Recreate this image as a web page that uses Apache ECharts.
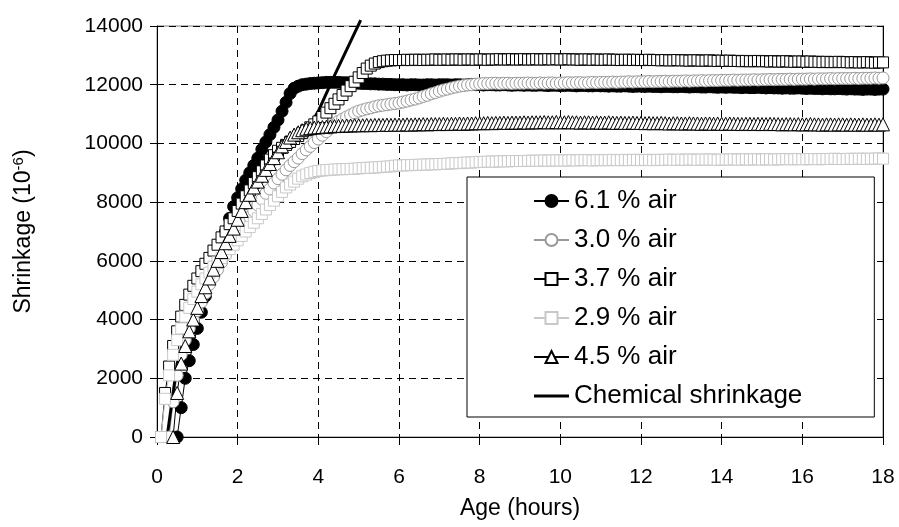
<!DOCTYPE html>
<html>
<head>
<meta charset="utf-8">
<script src="https://cdn.jsdelivr.net/npm/echarts@6/dist/echarts.min.js"></script>
<style>html,body{margin:0;padding:0;background:#fff}#c{width:899px;height:527px}</style>
</head>
<body>
<div id="c"></div>
<script>
// Age (hours) sampling grid
const ages = [
0.1,0.2,0.3,0.4,0.5,0.6,0.7,0.8,0.9,1.0,
1.1,1.2,1.3,1.4,1.5,1.6,1.7,1.8,1.9,2.0,
2.1,2.2,2.3,2.4,2.5,2.6,2.7,2.8,2.9,3.0,
3.1,3.2,3.3,3.4,3.5,3.6,3.7,3.8,3.9,4.0,
4.1,4.2,4.3,4.4,4.5,4.6,4.7,4.8,4.9,5.0,
5.1,5.2,5.3,5.4,5.5,5.6,5.7,5.8,5.9,6.0,
6.1,6.2,6.3,6.4,6.5,6.6,6.7,6.8,6.9,7.0,
7.1,7.2,7.3,7.4,7.5,7.6,7.7,7.8,7.9,8.0,
8.1,8.2,8.3,8.4,8.5,8.6,8.7,8.8,8.9,9.0,
9.1,9.2,9.3,9.4,9.5,9.6,9.7,9.8,9.9,10.0,
10.1,10.2,10.3,10.4,10.5,10.6,10.7,10.8,10.9,11.0,
11.1,11.2,11.3,11.4,11.5,11.6,11.7,11.8,11.9,12.0,
12.1,12.2,12.3,12.4,12.5,12.6,12.7,12.8,12.9,13.0,
13.1,13.2,13.3,13.4,13.5,13.6,13.7,13.8,13.9,14.0,
14.1,14.2,14.3,14.4,14.5,14.6,14.7,14.8,14.9,15.0,
15.1,15.2,15.3,15.4,15.5,15.6,15.7,15.8,15.9,16.0,
16.1,16.2,16.3,16.4,16.5,16.6,16.7,16.8,16.9,17.0,
17.1,17.2,17.3,17.4,17.5,17.6,17.7,17.8,17.9,18.0
];

const air61 = [
null,null,null,null,0,1000,2000,2600,3150,3700,
4250,4800,5300,5800,6200,6600,7000,7450,7850,8150,
8450,8750,9000,9250,9500,9800,10050,10300,10550,10800,
11100,11400,11700,11880,11950,12000,12020,12040,12050,12060,
12070,12080,12080,12080,12080,12070,12070,12060,12060,12050,
12040,12040,12030,12030,12020,12020,12010,12010,12000,12000,
12000,11990,12000,12000,11990,11990,12000,12000,11990,12000,
12000,12000,11990,12000,12000,11990,12000,12010,12000,12000,
11990,12000,12000,11990,11990,12000,11990,11980,11990,11990,
11980,11990,11980,11980,11990,11980,11970,11980,11980,11970,
11970,11980,11970,11960,11970,11970,11960,11960,11970,11960,
11960,11950,11960,11950,11950,11960,11950,11940,11950,11950,
11940,11950,11940,11940,11930,11940,11940,11930,11930,11940,
11930,11920,11930,11930,11920,11920,11930,11920,11910,11920,
11910,11920,11910,11910,11900,11910,11900,11900,11910,11900,
11890,11900,11890,11890,11880,11890,11880,11880,11890,11880,
11870,11880,11870,11870,11860,11870,11860,11860,11870,11860,
11850,11860,11850,11850,11840,11850,11850,11840,11850,11850
];

const air30 = [
null,null,0,1200,2100,2800,3300,3700,4000,4300,
4600,4900,5200,5450,5700,5950,6200,6450,6700,6900,
7100,7300,7500,7700,7900,8100,8300,8450,8650,8800,
8950,9100,9250,9380,9500,9650,9780,9900,10030,10150,
10280,10400,10520,10630,10750,10830,10900,10970,11040,11100,
11140,11180,11210,11250,11280,11300,11320,11340,11360,11380,
11410,11440,11480,11510,11550,11600,11640,11690,11730,11780,
11820,11850,11890,11920,11950,11970,11990,12000,12020,12030,
12040,12040,12050,12050,12040,12050,12050,12040,12050,12050,
12050,12060,12050,12050,12060,12050,12060,12060,12050,12060,
12060,12070,12060,12070,12070,12060,12070,12080,12070,12080,
12080,12080,12090,12080,12090,12090,12100,12090,12100,12100,
12100,12110,12100,12110,12110,12120,12110,12120,12120,12120,
12130,12120,12130,12130,12140,12130,12140,12140,12140,12150,
12150,12150,12160,12150,12160,12160,12160,12170,12160,12170,
12170,12180,12170,12180,12180,12180,12190,12180,12190,12190,
12190,12200,12190,12200,12200,12200,12210,12200,12210,12210,
12210,12210,12220,12210,12220,12220,12220,12230,12220,12230
];

const air37 = [
0,1500,2400,3100,3600,4100,4500,4850,5150,5400,
5650,5900,6100,6350,6550,6800,7000,7250,7450,7700,
7950,8200,8400,8650,8850,9050,9250,9450,9600,9750,
9850,9950,10050,10150,10250,10350,10450,10550,10650,10750,
10900,11050,11200,11350,11500,11650,11800,11950,12100,12250,
12400,12550,12650,12720,12770,12800,12820,12830,12840,12840,
12840,12850,12840,12850,12850,12840,12850,12850,12860,12850,
12850,12860,12850,12860,12860,12850,12860,12860,12850,12860,
12860,12850,12860,12860,12870,12860,12860,12870,12860,12860,
12870,12860,12860,12870,12860,12860,12870,12860,12870,12860,
12860,12870,12860,12860,12850,12860,12860,12850,12860,12850,
12850,12860,12850,12850,12840,12850,12850,12840,12850,12840,
12840,12850,12840,12840,12830,12840,12830,12830,12840,12830,
12830,12820,12830,12830,12820,12820,12830,12820,12810,12820,
12810,12820,12810,12810,12800,12810,12800,12800,12810,12800,
12800,12790,12800,12790,12790,12800,12790,12780,12790,12790,
12780,12790,12780,12780,12770,12780,12770,12770,12780,12770,
12770,12760,12770,12760,12760,12770,12760,12750,12760,12760
];

const air29 = [
0,1300,2100,2800,3300,3700,4100,4400,4700,4950,
5200,5400,5600,5800,5950,6100,6250,6400,6550,6700,
6850,7000,7150,7300,7450,7600,7750,7900,8050,8200,
8350,8500,8600,8700,8800,8880,8940,8990,9030,9060,
9080,9090,9100,9110,9120,9120,9130,9130,9140,9150,
9160,9170,9170,9180,9190,9200,9210,9220,9240,9250,
9250,9260,9260,9270,9270,9280,9280,9290,9290,9300,
9300,9310,9320,9330,9330,9340,9350,9350,9360,9370,
9370,9380,9380,9380,9390,9390,9390,9400,9400,9400,
9400,9410,9410,9410,9410,9420,9410,9420,9420,9420,
9420,9420,9430,9420,9430,9430,9430,9420,9430,9430,
9430,9430,9440,9430,9430,9440,9430,9440,9440,9430,
9440,9440,9430,9440,9440,9440,9450,9440,9440,9450,
9440,9450,9450,9440,9450,9450,9450,9450,9440,9450,
9450,9450,9460,9450,9450,9460,9450,9460,9460,9450,
9460,9460,9450,9460,9460,9470,9460,9460,9470,9460,
9460,9470,9470,9460,9470,9470,9470,9480,9470,9470,
9470,9480,9470,9480,9480,9470,9480,9480,9490,9480
];

const air45 = [
null,null,null,0,1500,2500,3100,3600,4000,4400,
4800,5100,5400,5700,6000,6300,6600,6850,7100,7400,
7700,8000,8250,8500,8700,8900,9100,9300,9500,9700,
9900,10050,10200,10300,10380,10450,10500,10520,10540,10550,
10560,10570,10580,10590,10600,10600,10610,10610,10620,10620,
10620,10630,10620,10630,10630,10630,10640,10630,10640,10640,
10640,10650,10640,10650,10650,10660,10650,10660,10660,10660,
10670,10660,10670,10670,10680,10670,10680,10680,10690,10690,
10690,10700,10690,10700,10700,10710,10700,10710,10710,10710,
10720,10710,10720,10720,10720,10730,10720,10720,10730,10720,
10720,10730,10720,10720,10710,10720,10720,10710,10720,10710,
10710,10720,10710,10700,10710,10700,10700,10710,10700,10700,
10690,10700,10690,10690,10700,10690,10680,10690,10690,10680,
10680,10690,10680,10680,10670,10680,10680,10670,10680,10670,
10670,10680,10670,10670,10660,10670,10670,10660,10670,10660,
10660,10670,10660,10660,10650,10660,10660,10650,10660,10650,
10650,10660,10650,10650,10640,10650,10650,10640,10650,10650,
10640,10650,10640,10640,10650,10640,10640,10650,10640,10650
];

// Chemical shrinkage curve (hidden in the marker cloud until ~3.7 h, then straight up)
const chemAges = [0.25, 0.5, 1.0, 1.5, 2.0, 2.5, 3.0, 3.4, 3.7, 4.0, 4.41, 5.05];
const chemVals = [0, 2500, 5000, 6500, 7700, 8800, 9550, 10050, 10400, 11100, 12340, 14200];

const seriesNames = ['6.1 % air', '3.0 % air', '3.7 % air', '2.9 % air', '4.5 % air', 'Chemical shrinkage'];
const xTicks = [0, 2, 4, 6, 8, 10, 12, 14, 16, 18];
const yTicks = [0, 2000, 4000, 6000, 8000, 10000, 12000, 14000];

function pairs(xs, ys) {
  const out = [];
  for (let i = 0; i < xs.length; i++) if (ys[i] !== null) out.push([xs[i], ys[i]]);
  return out;
}

const FONT = '"Liberation Sans", Arial, sans-serif';
const chart = echarts.init(document.getElementById('c'), null, {renderer: 'canvas'});

function markerSeries(name, vals, symbol, size, fill, stroke) {
  return {
    name: name, type: 'line', data: pairs(ages, vals),
    symbol: symbol, symbolSize: size, showAllSymbol: true,
    lineStyle: {color: stroke, width: 1},
    itemStyle: {color: fill, borderColor: stroke, borderWidth: 1},
    emphasis: {disabled: true}
  };
}

chart.setOption({
  animation: false,
  backgroundColor: '#fff',
  textStyle: {fontFamily: FONT},
  grid: {left: 157, right: 16, top: 26, bottom: 90, show: true, borderColor: '#808080', borderWidth: 1, backgroundColor: 'transparent'},
  legend: {
    orient: 'vertical', left: 467, top: 177,
    padding: [11, 72, 8, 66],
    backgroundColor: '#fff', borderColor: '#000', borderWidth: 1,
    itemWidth: 35, itemHeight: 15, itemGap: 13,
    textStyle: {fontSize: 26, color: '#000', fontFamily: FONT, lineHeight: 26},
    selectedMode: false,
    data: seriesNames.slice(0, 5).concat([{name: seriesNames[5], icon: 'path://M0,0 L35,0 L35,3 L0,3 Z'}])
  },
  xAxis: {
    type: 'value', min: xTicks[0], max: xTicks[xTicks.length - 1], interval: 2,
    name: 'Age (hours)', nameLocation: 'middle', nameGap: 60,
    nameTextStyle: {fontSize: 23, color: '#000', fontFamily: FONT},
    axisLine: {show: true, onZero: false, lineStyle: {color: '#000', width: 1}},
    axisTick: {show: true, inside: false, length: 8, lineStyle: {color: '#000'}},
    axisLabel: {fontSize: 21, color: '#000', margin: 30, fontFamily: FONT},
    splitLine: {show: true, lineStyle: {color: '#000', type: [7, 5], width: 1}}
  },
  yAxis: [{
    type: 'value', min: yTicks[0], max: yTicks[yTicks.length - 1], interval: 2000,
    name: '{a|Shrinkage (10}{sup|-6}{a|)}', nameLocation: 'middle', nameGap: 120,
    nameTextStyle: {color: '#000', fontFamily: FONT, rich: {
      a: {fontSize: 23, color: '#000', fontFamily: FONT, lineHeight: 26},
      sup: {fontSize: 15, color: '#000', fontFamily: FONT, verticalAlign: 'top', lineHeight: 16}
    }},
    axisLine: {show: true, onZero: false, lineStyle: {color: '#000', width: 1}},
    axisTick: {show: true, inside: false, length: 7, lineStyle: {color: '#000'}},
    axisLabel: {fontSize: 21, color: '#000', margin: 14, fontFamily: FONT, formatter: v => String(v)},
    splitLine: {show: true, lineStyle: {color: '#000', type: [7, 5], width: 1}}
  }, {
    type: 'value', position: 'right', min: yTicks[0], max: yTicks[yTicks.length - 1], interval: 2000,
    axisLine: {show: true, onZero: false, lineStyle: {color: '#000', width: 1}},
    axisTick: {show: true, inside: true, length: 5, lineStyle: {color: '#000'}},
    axisLabel: {show: false}, splitLine: {show: false}
  }],
  series: [
    markerSeries(seriesNames[0], air61, 'circle', 12, '#000', '#000'),
    markerSeries(seriesNames[1], air30, 'circle', 12, '#fff', '#999'),
    markerSeries(seriesNames[2], air37, 'rect', 11, '#fff', '#000'),
    markerSeries(seriesNames[3], air29, 'rect', 11, '#fff', '#c8c8c8'),
    markerSeries(seriesNames[4], air45, 'triangle', 13, '#fff', '#000'),
    {
      name: seriesNames[5], type: 'line', data: pairs(chemAges, chemVals),
      symbol: 'none', clip: false, lineStyle: {color: '#000', width: 3},
      itemStyle: {color: '#000'}, emphasis: {disabled: true}
    }
  ]
});
</script>
</body>
</html>
